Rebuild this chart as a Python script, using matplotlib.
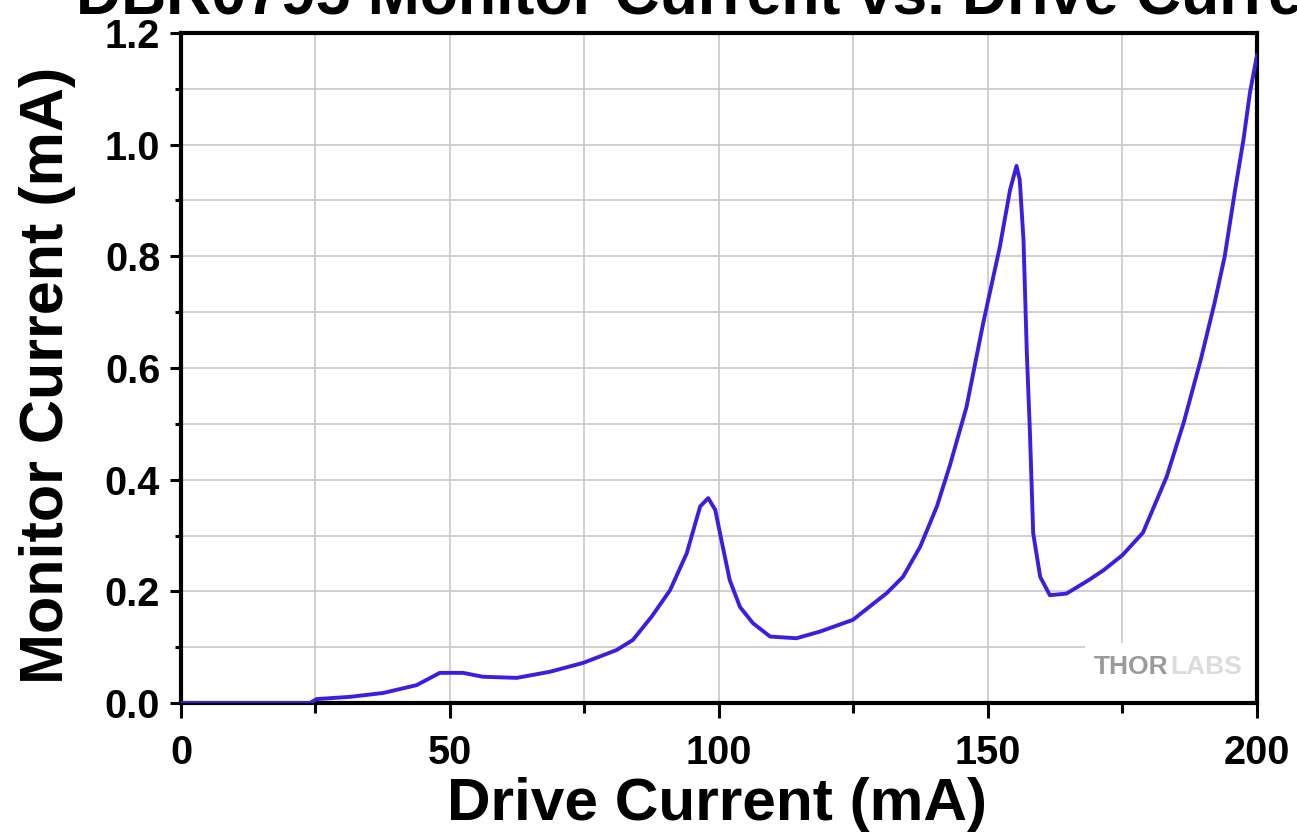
import matplotlib
matplotlib.use("Agg")
import matplotlib.pyplot as plt
from matplotlib.patches import Rectangle
from matplotlib.ticker import MultipleLocator

plt.rcParams['font.family'] = ['Liberation Sans', 'DejaVu Sans']
plt.rcParams['font.weight'] = 'bold'

## datos
drive_mA = [0, 24, 25.2, 31.4, 37.6, 43.8, 48.1, 52.4, 56.1, 62.4, 68.6, 74.8,
            81.0, 84.0, 87.5, 90.9, 94.0, 96.5, 98.0, 99.3, 100.7, 102.0, 103.9,
            106.3, 109.5, 114.4, 118.8, 124.9, 131.2, 134.2, 137.4, 140.5, 142.9,
            146.0, 149.1, 152.2, 154.1, 155.3, 155.9, 156.6, 157.2, 157.8, 158.4,
            159.7, 161.5, 164.6, 168.7, 171.5, 175.0, 178.8, 183.2, 186.4, 189.6,
            192.1, 194.0, 195.9, 197.5, 198.7, 200]
monitor_mA = [0, 0, 0.007, 0.011, 0.018, 0.032, 0.054, 0.054, 0.047, 0.045, 0.056, 0.072,
              0.095, 0.113, 0.155, 0.202, 0.268, 0.352, 0.367, 0.346, 0.28, 0.22, 0.172,
              0.143, 0.119, 0.116, 0.128, 0.149, 0.197, 0.226, 0.28, 0.352, 0.425,
              0.53, 0.68, 0.817, 0.919, 0.962, 0.937, 0.829, 0.632, 0.483, 0.304,
              0.226, 0.193, 0.196, 0.22, 0.238, 0.265, 0.305, 0.405, 0.503, 0.617,
              0.716, 0.80, 0.917, 1.01, 1.094, 1.16]

x_ticks = [0, 50, 100, 150, 200]
y_ticks = [0.0, 0.2, 0.4, 0.6, 0.8, 1.0, 1.2]

titulo = 'DBR0795 Monitor Current vs. Drive Current'

fig = plt.figure(figsize=(12.97, 8.36), dpi=100)
ax = fig.add_axes([181/1297, 1 - 703/836, 1076/1297, 670/836])

ax.plot(drive_mA, monitor_mA, color='#3c1ee0', lw=2.8, zorder=3)

ax.set_xlim(0, 200)
ax.set_ylim(0, 1.2)
ax.set_xticks(x_ticks)
ax.set_yticks(y_ticks)
ax.set_yticklabels(['%.1f' % v for v in y_ticks])
ax.xaxis.set_minor_locator(MultipleLocator(25))
ax.yaxis.set_minor_locator(MultipleLocator(0.1))

ax.set_axisbelow(True)
ax.grid(True, which='both', color='#c4c4c4', lw=1.1)

for s in ax.spines.values():
    s.set_linewidth(3)

ax.tick_params(axis='x', which='major', length=11, width=2.2, pad=11, labelsize=28.5)
ax.tick_params(axis='x', which='minor', length=7, width=2.2)
ax.tick_params(axis='y', which='major', length=8, width=2.2, pad=7, labelsize=28.5)
ax.tick_params(axis='y', which='minor', length=4.5, width=2.2)

# tapa blanca debajo del logo
ax.add_patch(Rectangle((0.840, 0), 0.16, 0.09, transform=ax.transAxes,
                       facecolor='white', edgecolor='none', zorder=1))
ax.text(0.848, 0.054, 'THOR', transform=ax.transAxes, fontsize=19,
        color='#9a9a9a', weight='bold', va='center', ha='left', zorder=2)
ax.text(0.919, 0.054, 'LABS', transform=ax.transAxes, fontsize=19,
        color='#dcdcdc', weight='bold', va='center', ha='left', zorder=2)

fig.text(719/1297, 1 - 13/836, titulo, ha='center', va='baseline',
         fontsize=45, weight='bold')
fig.text(717/1297, 1 - 805/836, 'Drive Current (mA)', ha='center', va='center',
         fontsize=43.5, weight='bold')
fig.text(48/1297, 1 - 375/836, 'Monitor Current (mA)', ha='center', va='center',
         rotation=90, fontsize=44, weight='bold')

fig.savefig('out.png', dpi=100)
